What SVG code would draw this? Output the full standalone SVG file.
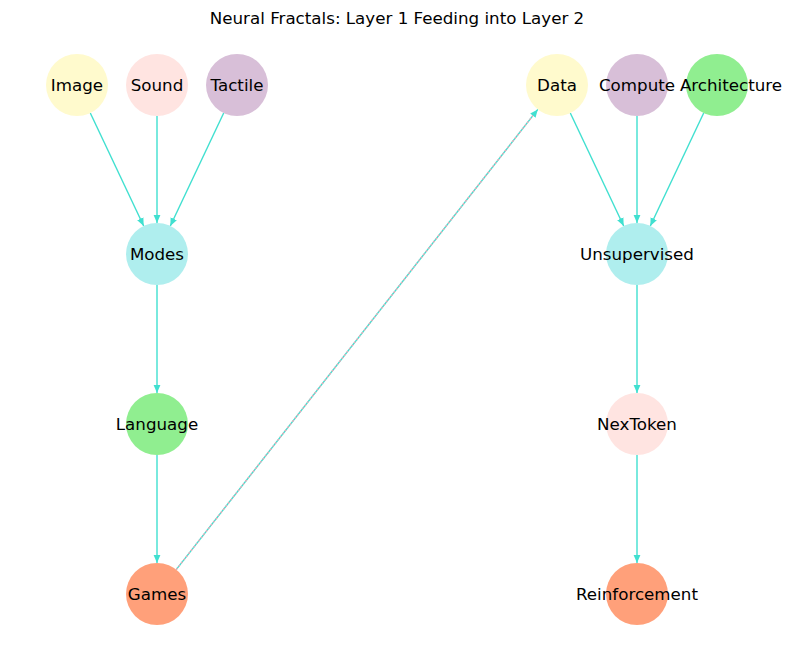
<svg xmlns="http://www.w3.org/2000/svg" width="794" height="658" viewBox="0 0 794 658">
<defs>
<style>
text{font-family:"DejaVu Sans",sans-serif;font-size:16.7px;text-anchor:middle;dominant-baseline:central;fill:#000}
.e{stroke:#40E0D0;stroke-width:1.4;fill:none}
.d{stroke:#EBA9B8;stroke-width:1.4;fill:none;stroke-dasharray:2 2}
.n{stroke:none}
</style>
<marker id="a" markerUnits="userSpaceOnUse" markerWidth="10" markerHeight="8" refX="8" refY="4" orient="auto">
<path d="M0,0.6 L8,4 L0,7.4 z" fill="#40E0D0"/>
</marker>
</defs>
<rect width="794" height="658" fill="#fff"/>
<text x="397" y="18">Neural Fractals: Layer 1 Feeding into Layer 2</text>
<g id="edges">
<line class="e" x1="90.3" y1="113" x2="143.7" y2="226" marker-end="url(#a)"/>
<line class="e" x1="157" y1="116" x2="157" y2="223" marker-end="url(#a)"/>
<line class="e" x1="223.7" y1="113" x2="170.3" y2="226" marker-end="url(#a)"/>
<line class="e" x1="157" y1="285" x2="157" y2="393" marker-end="url(#a)"/>
<line class="e" x1="157" y1="455" x2="157" y2="563" marker-end="url(#a)"/>
<line class="e" x1="176.2" y1="569.6" x2="537.8" y2="109.4" marker-end="url(#a)"/>
<line class="d" x1="176.2" y1="569.6" x2="533" y2="115.5"/>
<line class="e" x1="570.3" y1="113" x2="623.7" y2="226" marker-end="url(#a)"/>
<line class="e" x1="637" y1="116" x2="637" y2="223" marker-end="url(#a)"/>
<line class="e" x1="703.7" y1="113" x2="650.3" y2="226" marker-end="url(#a)"/>
<line class="e" x1="637" y1="285" x2="637" y2="393" marker-end="url(#a)"/>
<line class="e" x1="637" y1="455" x2="637" y2="563" marker-end="url(#a)"/>
</g>
<g id="Image"><circle class="n" cx="77" cy="85" r="31" fill="#FFFACD"/><text x="77" y="85">Image</text></g>
<g id="Sound"><circle class="n" cx="157" cy="85" r="31" fill="#FFE4E1"/><text x="157" y="85">Sound</text></g>
<g id="Tactile"><circle class="n" cx="237" cy="85" r="31" fill="#D8BFD8"/><text x="237" y="85">Tactile</text></g>
<g id="Modes"><circle class="n" cx="157" cy="254" r="31" fill="#AFEEEE"/><text x="157" y="254">Modes</text></g>
<g id="Language"><circle class="n" cx="157" cy="424" r="31" fill="#90EE90"/><text x="157" y="424">Language</text></g>
<g id="Games"><circle class="n" cx="157" cy="594" r="31" fill="#FFA07A"/><text x="157" y="594">Games</text></g>
<g id="Data"><circle class="n" cx="557" cy="85" r="31" fill="#FFFACD"/><text x="557" y="85">Data</text></g>
<g id="Compute"><circle class="n" cx="637" cy="85" r="31" fill="#D8BFD8"/><text x="637" y="85">Compute</text></g>
<g id="Architecture"><circle class="n" cx="717" cy="85" r="31" fill="#90EE90"/><text x="731" y="85">Architecture</text></g>
<g id="Unsupervised"><circle class="n" cx="637" cy="254" r="31" fill="#AFEEEE"/><text x="637" y="254">Unsupervised</text></g>
<g id="NexToken"><circle class="n" cx="637" cy="424" r="31" fill="#FFE4E1"/><text x="637" y="424">NexToken</text></g>
<g id="Reinforcement"><circle class="n" cx="637" cy="594" r="31" fill="#FFA07A"/><text x="637" y="594">Reinforcement</text></g>
</svg>
